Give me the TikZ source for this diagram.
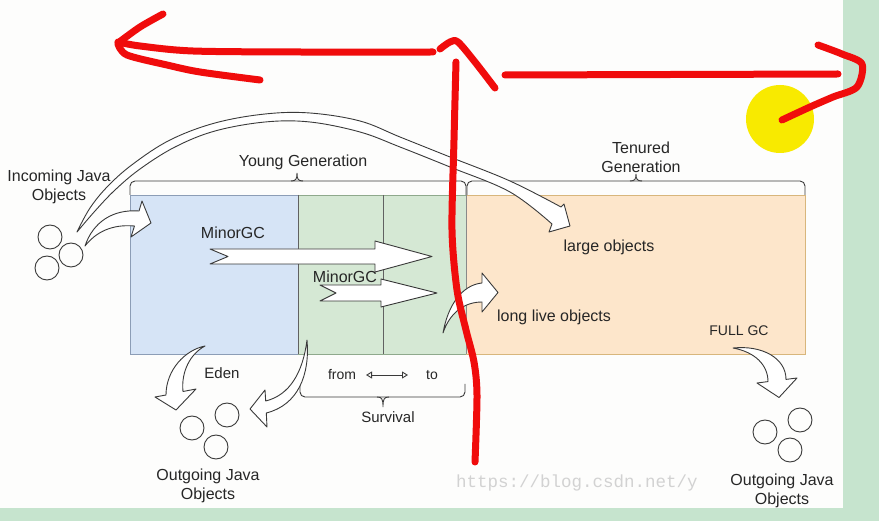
\documentclass[tikz,border=0pt]{standalone}
\usepackage{fontspec}
\setmainfont{Liberation Sans}
\setmonofont{Liberation Mono}
\usetikzlibrary{arrows.meta}
\definecolor{bgwhite}{HTML}{FDFDFC}
\definecolor{sidegreen}{HTML}{C6E4CE}
\definecolor{edenfill}{HTML}{D6E4F6}
\definecolor{edenline}{HTML}{8C9DB6}
\definecolor{survfill}{HTML}{D5E8D4}
\definecolor{survline}{HTML}{8FA98C}
\definecolor{tenfill}{HTML}{FDE6CB}
\definecolor{tenline}{HTML}{D8B67C}
\definecolor{ink}{HTML}{262626}
\definecolor{lineink}{HTML}{3A3A3A}
\definecolor{pen}{RGB}{240,12,12}
\definecolor{hilite}{HTML}{F8EA00}
\definecolor{wmark}{HTML}{D2D2D2}
\tikzset{
  txt/.style={inner sep=0pt, align=center, text=ink, font=\fontsize{16}{19}\selectfont},
  txtsmall/.style={inner sep=0pt, align=center, text=ink, font=\fontsize{14}{16}\selectfont},
  txtmid/.style={inner sep=0pt, align=center, text=ink, font=\fontsize{15}{18}\selectfont},
  hollow/.style={fill=white, draw=lineink, line width=0.9pt, line join=round},
  bracket/.style={draw=lineink, line width=0.9pt},
  ball/.style={circle, draw=lineink, line width=0.9pt, minimum size=24pt, inner sep=0pt},
  redpen/.style={draw=pen, line width=7pt, line cap=round, line join=round},
}
\begin{document}
\begin{tikzpicture}[x=1pt,y=-1pt]
\useasboundingbox (0,0) rectangle (879,521);
% background and frame strips
\fill[bgwhite] (0,0) rectangle (879,521);
\fill[sidegreen] (843,0) rectangle (879,521);
\fill[sidegreen] (0,508) rectangle (879,521);

% memory boxes
\filldraw[fill=edenfill, draw=edenline, line width=0.9pt] (130,195) rectangle (298,354);
\filldraw[fill=survfill, draw=survline, line width=0.9pt] (298,195) rectangle (466,354);
\filldraw[fill=tenfill, draw=tenline, line width=0.9pt] (466,195) rectangle (805,354);
\draw[draw=lineink!80, line width=0.9pt] (298,195) -- (298,354);
\draw[draw=lineink!80, line width=0.9pt] (383,195) -- (383,354);
\draw[draw=lineink!60, line width=0.9pt] (466,195) -- (466,354);

% braces
\draw[bracket, rounded corners=5pt] (130,195) -- (130,181) -- (466,181) -- (466,195);
\draw[bracket] (291,181) .. controls (296,181) and (297,179) .. (297,173) .. controls (297,179) and (298,181) .. (303,181);
\draw[bracket, rounded corners=5pt] (467,195) -- (467,181) -- (805,181) -- (805,195);
\draw[bracket] (630,181) .. controls (635,181) and (636,179) .. (636,174) .. controls (636,179) and (637,181) .. (642,181);
\draw[bracket, rounded corners=5pt] (300,384) -- (300,397) -- (465,397) -- (465,384);
\draw[bracket] (377,397) .. controls (382,397) and (383,399) .. (383,407) .. controls (383,399) and (384,397) .. (389,397);

% labels
\node[txt] (young) at (303,162) {Young Generation};
\node[txt] (tenured) at (641,157) {Tenured\\Generation};
\node[txt] (incoming) at (59,187) {Incoming Java\\Objects};
\node[txt] (large) at (609,247) {large objects};
\node[txt] (longlive) at (554,317) {long live objects};
\node[txtsmall] (fullgc) at (739,331) {FULL GC};
\node[txtmid] (eden) at (222,373) {Eden};
\node[txtsmall] (from) at (342,375) {from};
\node[txtsmall] (to) at (432,375) {to};
\node[txtmid] (survival) at (388,417) {Survival};
\coordinate (fromend) at (366,375);
\coordinate (toend) at (408,375);
\draw[draw=lineink, line width=0.9pt, {Triangle[open,length=6pt,width=7pt]}-{Triangle[open,length=6pt,width=7pt]}] (fromend) -- (toend);

% watermark
\node[inner sep=0pt, anchor=west, text=wmark, font=\ttfamily\fontsize{17.5}{20}\selectfont] (wm) at (456,483) {https://blog.csdn.net/y};

% balls
\node[ball] (in1) at (50,237) {};
\node[ball] (in2) at (47,268) {};
\node[ball] (in3) at (71,255) {};
\node[ball] (out1) at (192,428) {};
\node[ball] (out2) at (227,415) {};
\node[ball] (out3) at (216,447) {};
\node[ball] (outr1) at (765,432) {};
\node[ball] (outr2) at (800,420) {};
\node[ball] (outr3) at (790,450) {};

\node[txt] (outleft) at (208,486) {Outgoing Java\\Objects};
\node[txt] (outright) at (782,491) {Outgoing Java\\Objects};

% MinorGC block arrows
\filldraw[hollow] (210,249) -- (375,249) -- (375,241) -- (432,256.5) -- (375,272) -- (375,264) -- (210,264) -- (228,256.5) -- cycle;
\filldraw[hollow] (320,285) -- (381,285) -- (381,279) -- (437,293) -- (381,307) -- (381,301) -- (320,301) -- (336,293) -- cycle;
\node[txt] (minor1) at (233,233) {MinorGC};
\node[txt] (minor2) at (345,277) {MinorGC};

% incoming swoosh into Eden
\filldraw[hollow] (85,246) .. controls (93,222) and (113,209) .. (139,211) -- (142,201) -- (151,223) -- (131,237) -- (134.5,226) .. controls (112,224) and (96,232) .. (85,246) -- cycle;

% big arc to large objects
\filldraw[hollow] plot[smooth, tension=0.6] coordinates {(77,232) (90,208) (108,186) (133,164) (170,140) (215,123) (265,114) (310,113) (360,121) (400,137) (450,157) (510,181) (561,207)}
  -- (564,204) -- (570,226) -- (549,232) -- (552,224)
  -- plot[smooth, tension=0.6] coordinates {(552,224) (510,192) (450,167) (400,147) (360,132) (310,122) (265,122) (215,131) (175,147) (140,169) (115,190) (95,211) (77,232)} -- cycle;

% long live swoosh
\filldraw[hollow] (443,333) .. controls (448,305) and (462,285) .. (482,283) -- (482,273) -- (498,292.5) -- (482,312) -- (482,302) .. controls (465,302) and (450,312) .. (443,333) -- cycle;

% Eden out swoosh
\filldraw[hollow] (205,346) .. controls (185,350) and (166,370) .. (166,395) -- (155,397) -- (176,410) -- (196,389) -- (183,391.5) .. controls (181,372) and (190,354) .. (205,346) -- cycle;

% survivor out swoosh
\filldraw[hollow] (307,340) .. controls (310,375) and (298,405) .. (266.3,413) -- (267,427) -- (250,409) -- (265,390) -- (265.7,401) .. controls (290,395) and (303,372) .. (307,340) -- cycle;

% FULL GC swoosh
\filldraw[hollow] (733,348) .. controls (762,345) and (786,358) .. (786,379.4) -- (797,378) -- (779,397.5) -- (757,383) -- (768,381.6) .. controls (768,365) and (755,352) .. (733,348) -- cycle;

% highlight and red annotations
\fill[hilite] (780,119) circle (34);
\draw[redpen] plot[smooth] coordinates {(163,14) (140,27) (118,43)};
\draw[redpen] plot[smooth] coordinates {(118,42) (140,46) (193,51) (300,52) (433,52)};
\draw[redpen] plot[smooth] coordinates {(118,44) (127,55) (167,65) (200,72) (260,80)};
\draw[redpen] plot[smooth] coordinates {(440,49) (450,42) (458,42) (475,62) (495,88)};
\draw[redpen] plot[smooth] coordinates {(456,62) (454,140) (452,230) (457,290) (466,330) (474,362) (477,395) (475,462)};
\draw[redpen] (505,75) -- (838,74);
\draw[redpen] plot[smooth, tension=0.5] coordinates {(818,45) (842,54) (862,64) (857,87) (833,97) (810,107) (782,120)};
\end{tikzpicture}
\end{document}
